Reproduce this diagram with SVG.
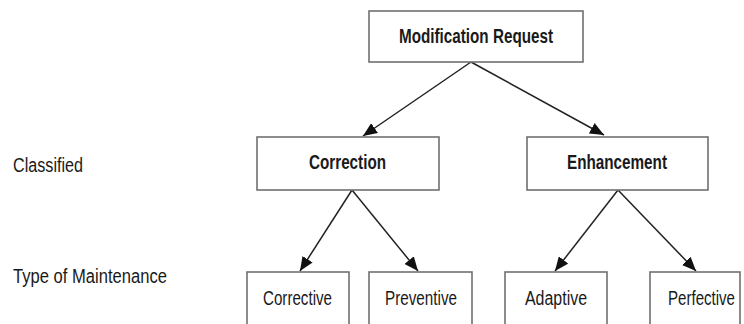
<svg xmlns="http://www.w3.org/2000/svg" width="744" height="324" viewBox="0 0 744 324">
<style>
.box{fill:#fff;stroke:#707070;stroke-width:1.6}
.t{font-family:"Liberation Sans",Arial,sans-serif;fill:#1a1a1a;font-size:20px}
.b{font-weight:bold}
.c{stroke:#222;stroke-width:1.5;fill:none;marker-end:url(#ah)}
</style>
<defs>
<marker id="ah" markerUnits="userSpaceOnUse" markerWidth="14" markerHeight="12" viewBox="0 0 14 12" refX="14" refY="6" orient="auto">
<path d="M0,0 L14,6 L0,12 Z" fill="#111"/>
</marker>
</defs>
<rect width="744" height="324" fill="#fff"/>
<text class="t" x="13" y="172" textLength="70" lengthAdjust="spacingAndGlyphs">Classified</text>
<text class="t" x="13" y="283" textLength="154" lengthAdjust="spacingAndGlyphs">Type of Maintenance</text>
<g id="connectors">
<line class="c" x1="471" y1="62" x2="363" y2="136"/>
<line class="c" x1="471" y1="62" x2="604" y2="135"/>
<line class="c" x1="352" y1="190" x2="300" y2="271"/>
<line class="c" x1="352" y1="190" x2="418" y2="271"/>
<line class="c" x1="618" y1="190" x2="555" y2="271"/>
<line class="c" x1="618" y1="190" x2="696" y2="271"/>
</g>
<g id="modification-request">
<rect class="box" x="369" y="11" width="214" height="51"/>
<text class="t b" x="399" y="43" textLength="154" lengthAdjust="spacingAndGlyphs">Modification Request</text>
</g>
<g id="correction">
<rect class="box" x="257" y="137" width="182" height="53"/>
<text class="t b" x="309" y="169" textLength="77" lengthAdjust="spacingAndGlyphs">Correction</text>
</g>
<g id="enhancement">
<rect class="box" x="527" y="137" width="181" height="53"/>
<text class="t b" x="567" y="169" textLength="100" lengthAdjust="spacingAndGlyphs">Enhancement</text>
</g>
<g id="corrective">
<rect class="box" x="247" y="272" width="102" height="60"/>
<text class="t" x="263" y="305" textLength="69" lengthAdjust="spacingAndGlyphs">Corrective</text>
</g>
<g id="preventive">
<rect class="box" x="369" y="272" width="103" height="60"/>
<text class="t" x="385" y="305" textLength="72" lengthAdjust="spacingAndGlyphs">Preventive</text>
</g>
<g id="adaptive">
<rect class="box" x="505" y="272" width="102" height="60"/>
<text class="t" x="525" y="305" textLength="62" lengthAdjust="spacingAndGlyphs">Adaptive</text>
</g>
<g id="perfective">
<rect class="box" x="650" y="272" width="90" height="60"/>
<text class="t" x="668" y="305" textLength="67" lengthAdjust="spacingAndGlyphs">Perfective</text>
</g>
</svg>
